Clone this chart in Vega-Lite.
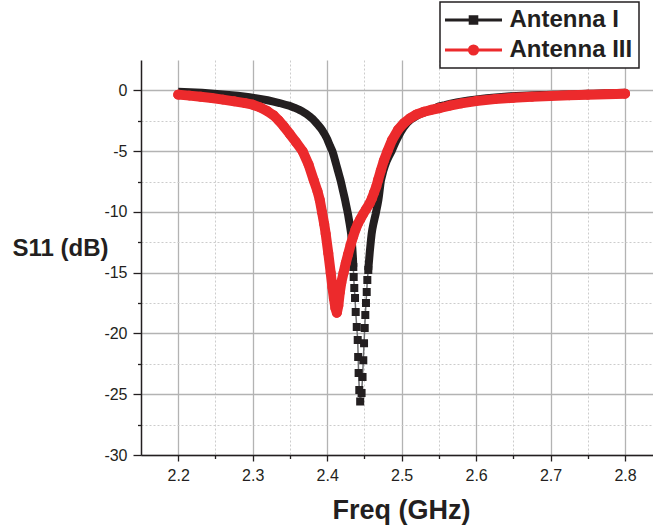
{
  "$schema": "https://vega.github.io/schema/vega-lite/v6.json",
  "width": 512,
  "height": 395,
  "autosize": {"type": "none"},
  "padding": {"left": 141, "top": 60, "right": 0, "bottom": 76},
  "background": "white",
  "config": {
    "view": {"stroke": null},
    "font": "Liberation Sans",
    "legend": {"strokeWidth": 1.5},
    "axis": {
      "domainColor": "#231f20",
      "domainWidth": 1.5,
      "tickColor": "#231f20",
      "tickWidth": 1.3,
      "labelFont": "Liberation Sans",
      "labelFontSize": 16,
      "labelColor": "#231f20",
      "labelOverlap": false,
      "labelFlush": false,
      "titleFont": "Liberation Sans",
      "titleFontWeight": "bold",
      "titleColor": "#231f20",
      "grid": true
    }
  },
  "datasets": {
    "antenna1": [
      {"f": 2.200, "s11": -0.12}, {"f": 2.208, "s11": -0.13}, {"f": 2.216, "s11": -0.15},
      {"f": 2.224, "s11": -0.17}, {"f": 2.232, "s11": -0.20}, {"f": 2.240, "s11": -0.23},
      {"f": 2.248, "s11": -0.27}, {"f": 2.256, "s11": -0.31}, {"f": 2.264, "s11": -0.35},
      {"f": 2.272, "s11": -0.40}, {"f": 2.280, "s11": -0.45}, {"f": 2.288, "s11": -0.51},
      {"f": 2.296, "s11": -0.57}, {"f": 2.304, "s11": -0.64}, {"f": 2.312, "s11": -0.72},
      {"f": 2.320, "s11": -0.81}, {"f": 2.328, "s11": -0.92}, {"f": 2.336, "s11": -1.04},
      {"f": 2.344, "s11": -1.18}, {"f": 2.350, "s11": -1.28}, {"f": 2.356, "s11": -1.42},
      {"f": 2.362, "s11": -1.58}, {"f": 2.367, "s11": -1.74}, {"f": 2.372, "s11": -1.93},
      {"f": 2.376, "s11": -2.12}, {"f": 2.380, "s11": -2.32}, {"f": 2.384, "s11": -2.58},
      {"f": 2.388, "s11": -2.86}, {"f": 2.391, "s11": -3.08}, {"f": 2.394, "s11": -3.35},
      {"f": 2.397, "s11": -3.65}, {"f": 2.400, "s11": -4.00}, {"f": 2.402, "s11": -4.30},
      {"f": 2.404, "s11": -4.60}, {"f": 2.4055, "s11": -4.80}, {"f": 2.407, "s11": -5.00},
      {"f": 2.409, "s11": -5.40}, {"f": 2.4108, "s11": -5.80}, {"f": 2.4126, "s11": -6.20},
      {"f": 2.4144, "s11": -6.60}, {"f": 2.4162, "s11": -7.00}, {"f": 2.4180, "s11": -7.40},
      {"f": 2.4195, "s11": -7.80}, {"f": 2.4210, "s11": -8.20}, {"f": 2.4225, "s11": -8.60},
      {"f": 2.4240, "s11": -9.00}, {"f": 2.4253, "s11": -9.40}, {"f": 2.4267, "s11": -9.80},
      {"f": 2.4280, "s11": -10.20}, {"f": 2.4291, "s11": -10.60}, {"f": 2.4302, "s11": -11.00},
      {"f": 2.4312, "s11": -11.40}, {"f": 2.4322, "s11": -11.80}, {"f": 2.4328, "s11": -12.20},
      {"f": 2.4333, "s11": -12.60}, {"f": 2.4338, "s11": -13.00}, {"f": 2.4342, "s11": -13.40},
      {"f": 2.4346, "s11": -13.80}, {"f": 2.4349, "s11": -14.20}, {"f": 2.4351, "s11": -14.53},
      {"f": 2.4356, "s11": -15.36}, {"f": 2.4364, "s11": -16.26}, {"f": 2.4374, "s11": -17.09},
      {"f": 2.4383, "s11": -18.24}, {"f": 2.4397, "s11": -19.47}, {"f": 2.4410, "s11": -20.54},
      {"f": 2.4416, "s11": -21.94}, {"f": 2.4422, "s11": -23.26}, {"f": 2.4431, "s11": -24.66},
      {"f": 2.4443, "s11": -25.60},
      {"f": 2.4462, "s11": -24.90}, {"f": 2.4475, "s11": -23.59}, {"f": 2.4485, "s11": -22.20},
      {"f": 2.4495, "s11": -20.80}, {"f": 2.4504, "s11": -19.55}, {"f": 2.4512, "s11": -18.48},
      {"f": 2.4521, "s11": -17.50}, {"f": 2.4531, "s11": -16.58}, {"f": 2.4539, "s11": -15.60},
      {"f": 2.4552, "s11": -14.78}, {"f": 2.4558, "s11": -14.30}, {"f": 2.4565, "s11": -13.80},
      {"f": 2.4572, "s11": -13.30}, {"f": 2.4580, "s11": -12.80}, {"f": 2.4588, "s11": -12.30},
      {"f": 2.4597, "s11": -11.80}, {"f": 2.4607, "s11": -11.40}, {"f": 2.4620, "s11": -11.00},
      {"f": 2.4635, "s11": -10.60}, {"f": 2.4650, "s11": -10.20}, {"f": 2.4663, "s11": -9.80},
      {"f": 2.4676, "s11": -9.40}, {"f": 2.4688, "s11": -9.00}, {"f": 2.4697, "s11": -8.60},
      {"f": 2.4705, "s11": -8.20}, {"f": 2.4713, "s11": -7.80}, {"f": 2.4722, "s11": -7.40},
      {"f": 2.4738, "s11": -7.00}, {"f": 2.4755, "s11": -6.60}, {"f": 2.4775, "s11": -6.20},
      {"f": 2.4800, "s11": -5.80}, {"f": 2.4830, "s11": -5.40}, {"f": 2.4865, "s11": -5.00},
      {"f": 2.4893, "s11": -4.60}, {"f": 2.4922, "s11": -4.20}, {"f": 2.4955, "s11": -3.80},
      {"f": 2.4990, "s11": -3.40}, {"f": 2.5030, "s11": -3.00}, {"f": 2.5070, "s11": -2.70},
      {"f": 2.5120, "s11": -2.40}, {"f": 2.5160, "s11": -2.25}, {"f": 2.5200, "s11": -2.10},
      {"f": 2.5240, "s11": -1.97}, {"f": 2.5290, "s11": -1.85}, {"f": 2.5345, "s11": -1.72},
      {"f": 2.5400, "s11": -1.60}, {"f": 2.5450, "s11": -1.46}, {"f": 2.5500, "s11": -1.32},
      {"f": 2.558, "s11": -1.22}, {"f": 2.566, "s11": -1.10}, {"f": 2.574, "s11": -1.00},
      {"f": 2.582, "s11": -0.91}, {"f": 2.590, "s11": -0.83}, {"f": 2.598, "s11": -0.76},
      {"f": 2.606, "s11": -0.70}, {"f": 2.614, "s11": -0.65}, {"f": 2.622, "s11": -0.60},
      {"f": 2.630, "s11": -0.56}, {"f": 2.638, "s11": -0.52}, {"f": 2.646, "s11": -0.49},
      {"f": 2.654, "s11": -0.46}, {"f": 2.662, "s11": -0.44}, {"f": 2.670, "s11": -0.42},
      {"f": 2.678, "s11": -0.40}, {"f": 2.686, "s11": -0.38}, {"f": 2.694, "s11": -0.37},
      {"f": 2.702, "s11": -0.36}, {"f": 2.710, "s11": -0.35}, {"f": 2.718, "s11": -0.34},
      {"f": 2.726, "s11": -0.33}, {"f": 2.734, "s11": -0.31}, {"f": 2.742, "s11": -0.30},
      {"f": 2.750, "s11": -0.28}, {"f": 2.758, "s11": -0.27}, {"f": 2.766, "s11": -0.26},
      {"f": 2.774, "s11": -0.24}, {"f": 2.782, "s11": -0.23}, {"f": 2.790, "s11": -0.22},
      {"f": 2.800, "s11": -0.20}
    ],
    "antenna3": [
      {"f": 2.200, "s11": -0.35}, {"f": 2.215, "s11": -0.43}, {"f": 2.230, "s11": -0.52},
      {"f": 2.245, "s11": -0.63}, {"f": 2.260, "s11": -0.76}, {"f": 2.275, "s11": -0.90},
      {"f": 2.290, "s11": -1.05}, {"f": 2.300, "s11": -1.18}, {"f": 2.310, "s11": -1.40},
      {"f": 2.320, "s11": -1.72}, {"f": 2.328, "s11": -2.05}, {"f": 2.335, "s11": -2.48},
      {"f": 2.342, "s11": -2.98}, {"f": 2.350, "s11": -3.60}, {"f": 2.358, "s11": -4.25},
      {"f": 2.367, "s11": -5.00}, {"f": 2.375, "s11": -6.10}, {"f": 2.382, "s11": -7.40},
      {"f": 2.387, "s11": -8.30}, {"f": 2.390, "s11": -9.00}, {"f": 2.393, "s11": -10.00},
      {"f": 2.396, "s11": -11.00}, {"f": 2.398, "s11": -11.80}, {"f": 2.4015, "s11": -13.40},
      {"f": 2.4047, "s11": -15.00}, {"f": 2.407, "s11": -16.20}, {"f": 2.409, "s11": -17.10},
      {"f": 2.411, "s11": -17.90}, {"f": 2.413, "s11": -18.30}, {"f": 2.415, "s11": -17.70},
      {"f": 2.417, "s11": -16.60}, {"f": 2.419, "s11": -15.80}, {"f": 2.422, "s11": -15.00},
      {"f": 2.425, "s11": -14.20}, {"f": 2.428, "s11": -13.50}, {"f": 2.4315, "s11": -12.70},
      {"f": 2.435, "s11": -12.00}, {"f": 2.438, "s11": -11.45}, {"f": 2.441, "s11": -11.00},
      {"f": 2.4445, "s11": -10.60}, {"f": 2.448, "s11": -10.20}, {"f": 2.452, "s11": -9.80},
      {"f": 2.457, "s11": -9.30}, {"f": 2.460, "s11": -8.90}, {"f": 2.463, "s11": -8.40},
      {"f": 2.466, "s11": -7.90}, {"f": 2.4685, "s11": -7.35}, {"f": 2.472, "s11": -6.60},
      {"f": 2.476, "s11": -5.80}, {"f": 2.481, "s11": -5.00}, {"f": 2.487, "s11": -4.10},
      {"f": 2.495, "s11": -3.25}, {"f": 2.503, "s11": -2.70}, {"f": 2.511, "s11": -2.30},
      {"f": 2.520, "s11": -1.98}, {"f": 2.530, "s11": -1.76}, {"f": 2.540, "s11": -1.60},
      {"f": 2.5515, "s11": -1.45}, {"f": 2.565, "s11": -1.25}, {"f": 2.580, "s11": -1.07},
      {"f": 2.600, "s11": -0.88}, {"f": 2.625, "s11": -0.72}, {"f": 2.650, "s11": -0.61},
      {"f": 2.675, "s11": -0.53}, {"f": 2.700, "s11": -0.47}, {"f": 2.725, "s11": -0.41},
      {"f": 2.750, "s11": -0.36}, {"f": 2.775, "s11": -0.31}, {"f": 2.800, "s11": -0.27}
    ]
  },
  "encoding": {
    "x": {
      "field": "f",
      "type": "quantitative",
      "scale": {"domain": [2.15, 2.8375], "nice": false, "zero": false},
      "axis": {
        "values": [2.2, 2.25, 2.3, 2.35, 2.4, 2.45, 2.5, 2.55, 2.6, 2.65, 2.7, 2.75, 2.8],
        "labelExpr": "abs(datum.value * 10 - round(datum.value * 10)) < 0.001 ? format(datum.value, '.1f') : ''",
        "labelPadding": 6,
        "tickSize": {"condition": {"test": "abs(datum.value * 10 - round(datum.value * 10)) < 0.001", "value": 6}, "value": 3.5},
        "gridColor": {"condition": {"test": "abs(datum.value * 10 - round(datum.value * 10)) < 0.001", "value": "#b3b3b3"}, "value": "#cccccc"},
        "gridDash": {"condition": {"test": "abs(datum.value * 10 - round(datum.value * 10)) < 0.001", "value": []}, "value": [2, 2]},
        "gridWidth": {"condition": {"test": "abs(datum.value * 10 - round(datum.value * 10)) < 0.001", "value": 1.3}, "value": 1},
        "title": "Freq (GHz)",
        "titleFontSize": 27,
        "titleAlign": "center",
        "titleAnchor": "start",
        "titleX": 260,
        "titleY": 63,
        "titleBaseline": "alphabetic"
      }
    },
    "y": {
      "field": "s11",
      "type": "quantitative",
      "scale": {"domain": [-30, 2.5], "nice": false, "zero": false},
      "axis": {
        "values": [-30, -27.5, -25, -22.5, -20, -17.5, -15, -12.5, -10, -7.5, -5, -2.5, 0],
        "labelExpr": "datum.value % 5 === 0 ? (datum.value < 0 ? '-' + abs(datum.value) : '' + datum.value) : ''",
        "labelPadding": 6,
        "tickSize": {"condition": {"test": "datum.value % 5 === 0", "value": 8}, "value": 3.5},
        "gridColor": {"condition": {"test": "datum.value % 5 === 0", "value": "#b3b3b3"}, "value": "#cccccc"},
        "gridDash": {"condition": {"test": "datum.value % 5 === 0", "value": []}, "value": [2, 2]},
        "gridWidth": {"condition": {"test": "datum.value % 5 === 0", "value": 1.3}, "value": 1},
        "title": "S11 (dB)",
        "titleFontSize": 24,
        "titleAngle": 0,
        "titleAlign": "center",
        "titleAnchor": "start",
        "titleX": -81,
        "titleY": 195,
        "titleBaseline": "alphabetic"
      }
    }
  },
  "layer": [
    {
      "data": {"name": "antenna1"},
      "mark": {"type": "line", "color": "#6d6e70", "strokeWidth": 1.5}
    },
    {
      "data": {"name": "antenna1"},
      "transform": [{"filter": "datum.f < 2.444 && datum.s11 > -14.6"}],
      "mark": {"type": "line", "color": "#231f20", "strokeWidth": 8, "strokeJoin": "round"}
    },
    {
      "data": {"name": "antenna1"},
      "transform": [{"filter": "datum.f > 2.445 && datum.s11 > -14.8"}],
      "mark": {"type": "line", "color": "#231f20", "strokeWidth": 8, "strokeJoin": "round"}
    },
    {
      "data": {"name": "antenna1"},
      "transform": [{"filter": "datum.s11 < -14.4"}],
      "mark": {"type": "point", "filled": true, "size": 586, "opacity": 1},
      "encoding": {
        "shape": {
          "datum": "Antenna I",
          "scale": {
            "domain": ["Antenna I", "Antenna III"],
            "range": [
              "M-2.85,0H-0.33M0.33,0H2.85M-0.33,-0.33H0.33V0.33H-0.33Z",
              "M-2.85,0H-0.41M0.41,0H2.85M-0.41,0A0.41,0.41,0,1,0,0.41,0A0.41,0.41,0,1,0,-0.41,0Z"
            ]
          }
        },
        "color": {
          "datum": "Antenna I",
          "scale": {"domain": ["Antenna I", "Antenna III"], "range": ["#231f20", "#ec2a2c"]},
          "legend": {
            "title": null,
            "orient": "none",
            "legendX": 299,
            "legendY": -58,
            "padding": 6,
            "rowPadding": 6,
            "strokeColor": "#231f20",
            "fillColor": "white",
            "symbolSize": 400,
            "symbolStrokeWidth": 3,
            "symbolOffset": 15.5,
            "labelFont": "Liberation Sans",
            "labelFontSize": 24,
            "labelFontWeight": "bold",
            "labelColor": "#231f20",
            "labelOffset": 24
          }
        }
      }
    },
    {
      "data": {"name": "antenna3"},
      "mark": {"type": "point", "filled": true, "size": 586, "opacity": 1},
      "encoding": {
        "shape": {"datum": "Antenna III"},
        "color": {"datum": "Antenna III"}
      }
    },
    {
      "data": {"name": "antenna3"},
      "mark": {"type": "line", "strokeWidth": 10, "strokeCap": "round", "strokeJoin": "round"},
      "encoding": {"color": {"datum": "Antenna III"}}
    }
  ]
}
